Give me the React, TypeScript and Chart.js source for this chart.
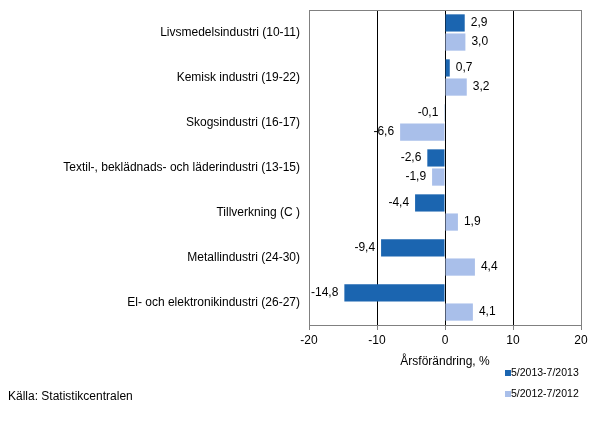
import { useEffect, useRef } from "react";
import { Chart, ChartConfiguration, Plugin, registerables } from "chart.js";

Chart.register(...registerables);

const categories = [
  "Livsmedelsindustri (10-11)",
  "Kemisk industri (19-22)",
  "Skogsindustri (16-17)",
  "Textil-, beklädnads- och läderindustri (13-15)",
  "Tillverkning (C )",
  "Metallindustri (24-30)",
  "El- och elektronikindustri (26-27)",
];
const series2013 = [2.9, 0.7, -0.1, -2.6, -4.4, -9.4, -14.8];
const series2012 = [3.0, 3.2, -6.6, -1.9, 1.9, 4.4, 4.1];
const seriesNames = ["5/2013-7/2013", "5/2012-7/2012"];
const seriesColors = ["#1B65B0", "#A9BFEA"];
const axisTitle = "Årsförändring, %";
const sourceText = "Källa: Statistikcentralen";

const FONT = "Arial, 'Liberation Sans', sans-serif";

const fmt = (v: number) => v.toFixed(1).replace(".", ",");

// value labels, frame, axis title, legend and source note
const extrasPlugin: Plugin<"bar"> = {
  id: "extras",
  afterDatasetsDraw(chart) {
    const { ctx, chartArea } = chart;
    ctx.save();
    ctx.font = `12px ${FONT}`;
    ctx.fillStyle = "#000";
    ctx.textBaseline = "middle";
    chart.data.datasets.forEach((ds, di) => {
      const meta = chart.getDatasetMeta(di);
      meta.data.forEach((bar: any, i) => {
        const v = ds.data[i] as number;
        if (v >= 0) {
          ctx.textAlign = "left";
          ctx.fillText(fmt(v), bar.x + 6, bar.y);
        } else {
          ctx.textAlign = "right";
          ctx.fillText(fmt(v), bar.x - 6, bar.y);
        }
      });
    });

    // plot frame
    ctx.strokeStyle = "#808080";
    ctx.lineWidth = 1;
    ctx.strokeRect(
      Math.round(chartArea.left) + 0.5,
      Math.round(chartArea.top) + 0.5,
      Math.round(chartArea.right - chartArea.left),
      Math.round(chartArea.bottom - chartArea.top)
    );

    // axis title
    const xScale = chart.scales.x;
    ctx.textAlign = "center";
    ctx.fillText(axisTitle, xScale.getPixelForValue(0), 362);

    // source
    ctx.textAlign = "left";
    ctx.fillText(sourceText, 8, 397);

    // legend
    ctx.font = `10.5px ${FONT}`;
    seriesNames.forEach((name, i) => {
      const y = 373 + i * 21;
      ctx.fillStyle = seriesColors[i];
      ctx.fillRect(505, y - 3, 6, 6);
      ctx.fillStyle = "#000";
      ctx.fillText(name, 511, y);
    });
    ctx.restore();
  },
};

export default function App() {
  const chartRef = useRef<HTMLCanvasElement>(null);
  const chartInstance = useRef<Chart | null>(null);

  useEffect(() => {
    if (!chartRef.current) return;
    if (chartInstance.current) chartInstance.current.destroy();
    const ctx = chartRef.current.getContext("2d");
    if (!ctx) return;

    const config: ChartConfiguration<"bar"> = {
      type: "bar",
      data: {
        labels: categories,
        datasets: [
          {
            label: seriesNames[0],
            data: series2013,
            backgroundColor: seriesColors[0],
            barPercentage: 0.9,
            categoryPercentage: 0.85,
          },
          {
            label: seriesNames[1],
            data: series2012,
            backgroundColor: seriesColors[1],
            barPercentage: 0.9,
            categoryPercentage: 0.85,
          },
        ],
      },
      options: {
        indexAxis: "y",
        animation: false,
        responsive: true,
        maintainAspectRatio: false,
        layout: { padding: { top: 10, right: 17, left: 0, bottom: 0 } },
        plugins: {
          legend: { display: false },
          tooltip: { enabled: false },
        },
        scales: {
          x: {
            min: -20,
            max: 20,
            afterFit: (scale) => {
              scale.height = 96;
            },
            ticks: {
              stepSize: 10,
              color: "#000",
              padding: 3,
              font: { family: FONT, size: 12 },
            },
            grid: {
              color: (c) =>
                c.tick && Math.abs(c.tick.value) === 20 ? "rgba(0,0,0,0)" : "#000",
              tickColor: "#808080",
              tickLength: 5,
              lineWidth: 1,
            },
            border: { display: true, color: "#808080" },
          },
          y: {
            afterFit: (scale) => {
              scale.width = 309;
            },
            ticks: {
              color: "#000",
              padding: 0,
              font: { family: FONT, size: 12 },
            },
            grid: {
              display: true,
              drawOnChartArea: false,
              drawTicks: true,
              tickLength: 9,
              tickColor: "rgba(0,0,0,0)",
              color: "rgba(0,0,0,0)",
            },
            border: { display: true, color: "#808080" },
          },
        },
      },
      plugins: [extrasPlugin],
    };

    chartInstance.current = new Chart(ctx, config);
    return () => {
      if (chartInstance.current) {
        chartInstance.current.destroy();
        chartInstance.current = null;
      }
    };
  }, []);

  return (
    <div style={{ position: "absolute", left: 0, top: 0, width: 598, height: 421, background: "#fff" }}>
      <canvas ref={chartRef} />
    </div>
  );
}
